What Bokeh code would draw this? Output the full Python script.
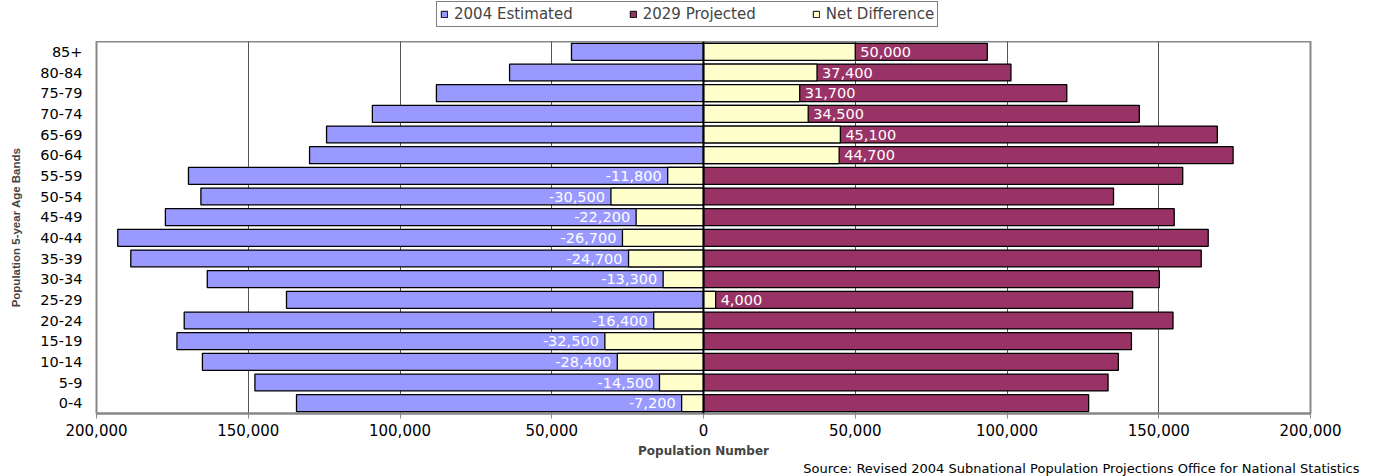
from bokeh.plotting import figure
from bokeh.layouts import column
from bokeh.models import (ColumnDataSource, FactorRange, Range1d, FixedTicker,
                          CustomJSTickFormatter, Legend, LegendItem, LabelSet, Label, Span)
from bokeh.core.properties import value
from bokeh.embed import file_html
from bokeh.resources import INLINE

ages = ["0-4", "5-9", "10-14", "15-19", "20-24", "25-29", "30-34", "35-39", "40-44",
        "45-49", "50-54", "55-59", "60-64", "65-69", "70-74", "75-79", "80-84", "85+"]
est_2004 = [134100, 147800, 165100, 173500, 171100, 137400, 163500, 188700, 193000,
            177300, 165600, 169700, 129800, 124200, 109100, 88000, 63900, 43500]
proj_2029 = [126900, 133300, 136700, 141000, 154700, 141400, 150200, 164000, 166300,
             155100, 135100, 157900, 174500, 169300, 143600, 119700, 101300, 93500]
net_diff = [-7200, -14500, -28400, -32500, -16400, 4000, -13300, -24700, -26700,
            -22200, -30500, -11800, 44700, 45100, 34500, 31700, 37400, 50000]
x_ticks = [-200000, -150000, -100000, -50000, 0, 50000, 100000, 150000, 200000]
series_names = ["2004 Estimated", "2029 Projected", "Net Difference"]
source_text = "Source: Revised 2004 Subnational Population Projections Office for National Statistics"

BLUE = "#9999FF"
MAROON = "#993366"
YELLOW = "#FFFFCC"
FONT = "DejaVu Sans"
W = 1375

src = ColumnDataSource(dict(
    age=ages,
    left2004=[-v for v in est_2004],
    p2029=proj_2029,
    diff=net_diff,
))
pos = [i for i, d in enumerate(net_diff) if d >= 0]
neg = [i for i, d in enumerate(net_diff) if d < 0]
src_pos = ColumnDataSource(dict(age=[ages[i] for i in pos], diff=[net_diff[i] for i in pos],
                                txt=["{:,}".format(net_diff[i]) for i in pos]))
src_neg = ColumnDataSource(dict(age=[ages[i] for i in neg], diff=[net_diff[i] for i in neg],
                                txt=["-{:,}".format(-net_diff[i]) for i in neg]))

# ---------------- legend strip ----------------
# ranges chosen so the legend proxy bars fall just outside this strip (not visible)
pl = figure(width=W, height=41, output_backend="svg", toolbar_location=None,
            x_range=Range1d(1e6, 2e6), y_range=Range1d(1e6, 2e6),
            x_axis_type=None, y_axis_type=None, frame_align=False,
            min_border_left=0, min_border_right=0, min_border_top=0, min_border_bottom=0)
pl.outline_line_color = None
pl.grid.visible = False
g1 = pl.hbar(y="p2029", right="p2029", height=1, source=src,
             fill_color=BLUE, line_color="black")
g2 = pl.hbar(y="p2029", right="p2029", height=1, source=src,
             fill_color=MAROON, line_color="black")
g3 = pl.hbar(y="p2029", right="p2029", height=1, source=src,
             fill_color=YELLOW, line_color="black")
legend = Legend(items=[LegendItem(label=series_names[0], renderers=[g1]),
                       LegendItem(label=series_names[1], renderers=[g2]),
                       LegendItem(label=series_names[2], renderers=[g3])],
                orientation="horizontal", location=(436, 14),
                glyph_width=8, glyph_height=8, label_standoff=6, spacing=56,
                padding=3, margin=0,
                label_text_font=FONT, label_text_font_size="15px",
                border_line_color="black", border_line_width=1,
                background_fill_color="white", background_fill_alpha=1)
pl.add_layout(legend, "center")

# ---------------- main chart ----------------
p = figure(width=W, height=419, output_backend="svg", toolbar_location=None,
           x_range=Range1d(-200000, 200000), y_range=FactorRange(*ages, range_padding=0),
           frame_align=False,
           min_border_left=96, min_border_right=65, min_border_top=0, min_border_bottom=46)
p.background_fill_color = "white"
p.border_fill_color = "white"
p.outline_line_color = "#888888"
p.outline_line_width = 2

p.ygrid.grid_line_color = None
p.xgrid.ticker = FixedTicker(ticks=x_ticks)
p.xgrid.grid_line_color = "#555555"
p.xgrid.grid_line_width = 1

bar_h = 0.82
r1 = p.hbar(y="age", left="left2004", right=0, height=bar_h, source=src,
            fill_color=BLUE, line_color="black", line_width=1.3)
r2 = p.hbar(y="age", left=0, right="p2029", height=bar_h, source=src,
            fill_color=MAROON, line_color="black", line_width=1.3)
r3 = p.hbar(y="age", left=0, right="diff", height=bar_h, source=src,
            fill_color=YELLOW, line_color="black", line_width=1.3)

p.add_layout(Span(location=0, dimension="height", line_color="black", line_width=2))

lab_pos = LabelSet(x="diff", y="age", text="txt", source=src_pos, x_offset=5,
                   text_align="left", text_baseline="middle", text_color="white",
                   text_font=value(FONT), text_font_size="14.5px")
lab_neg = LabelSet(x="diff", y="age", text="txt", source=src_neg, x_offset=-6,
                   text_align="right", text_baseline="middle", text_color="white",
                   text_font=value(FONT), text_font_size="14.5px")
p.add_layout(lab_pos)
p.add_layout(lab_neg)

p.xaxis.ticker = FixedTicker(ticks=x_ticks)
p.xaxis.formatter = CustomJSTickFormatter(code="return Math.abs(tick).toLocaleString('en-US');")
p.xaxis.axis_line_color = "#888888"
p.xaxis.axis_line_width = 2
p.xaxis.major_tick_line_color = "#888888"
p.xaxis.major_tick_out = 5
p.xaxis.major_tick_in = 0
p.xaxis.minor_tick_line_color = None
p.xaxis.major_label_standoff = 5
p.xaxis.major_label_text_font = FONT
p.xaxis.major_label_text_font_size = "15px"
p.xaxis.major_label_text_color = "black"
p.xaxis.axis_label = "Population Number"
p.xaxis.axis_label_text_font = FONT
p.xaxis.axis_label_text_font_style = "bold"
p.xaxis.axis_label_text_font_size = "12px"
p.xaxis.axis_label_standoff = 5

p.yaxis.axis_line_color = None
p.yaxis.major_tick_line_color = None
p.yaxis.major_tick_out = 0
p.yaxis.major_tick_in = 0
p.yaxis.minor_tick_line_color = None
p.yaxis.major_label_standoff = 14
p.yaxis.major_label_text_font = FONT
p.yaxis.major_label_text_font_size = "14.5px"
p.yaxis.major_label_text_color = "black"
p.yaxis.axis_label = "Population 5-year Age Bands"
p.yaxis.axis_label_text_font = "'Liberation Sans Narrow', 'Liberation Sans'"
p.yaxis.axis_label_text_font_style = "bold"
p.yaxis.axis_label_text_font_size = "11.5px"
p.yaxis.axis_label_standoff = 15

# ---------------- source strip ----------------
ps = figure(width=W, height=16, output_backend="svg", toolbar_location=None,
            x_range=Range1d(0, 1), y_range=Range1d(0, 1),
            x_axis_type=None, y_axis_type=None, frame_align=False,
            min_border_left=0, min_border_right=0, min_border_top=0, min_border_bottom=0)
ps.outline_line_color = None
ps.grid.visible = False
ps.add_layout(Label(x=1359, y=8, x_units="screen", y_units="screen", text=source_text,
                    text_align="right", text_baseline="middle", text_font=FONT,
                    text_font_size="13px", text_color="black"))

layout = column(pl, p, ps, spacing=0)
open("out.html", "w").write(file_html(layout, INLINE))
